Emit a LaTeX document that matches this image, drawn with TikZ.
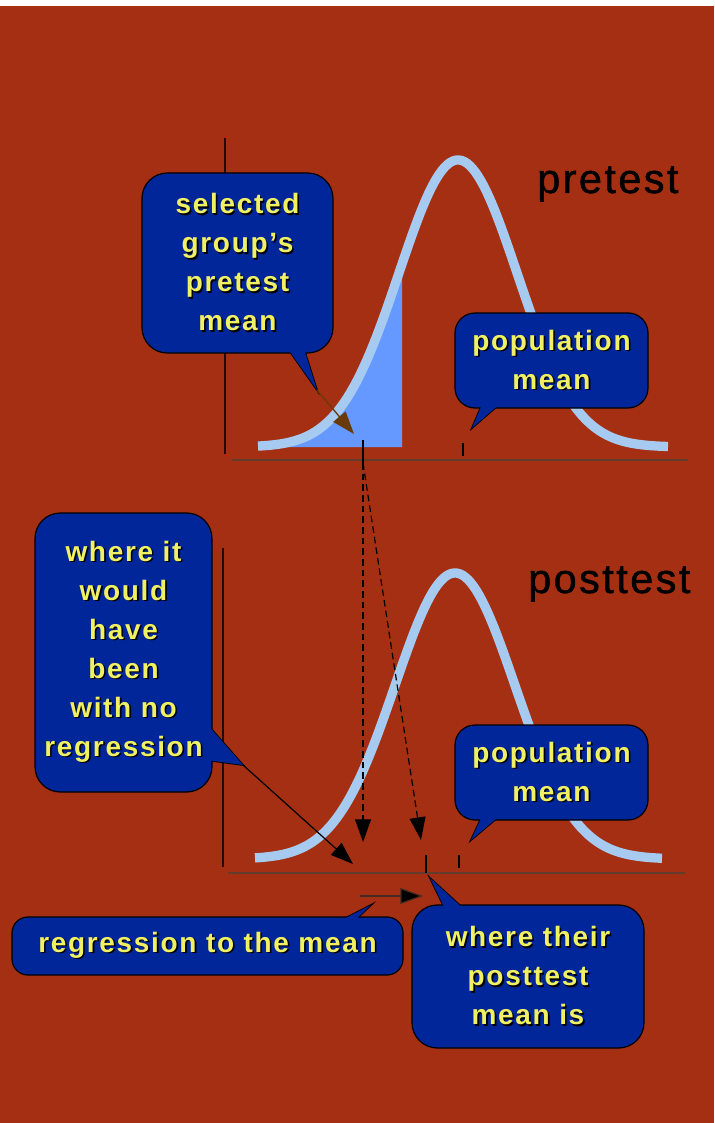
\documentclass[tikz,border=0pt]{standalone}
\usepackage{fontspec}
\setmainfont{Liberation Sans}
\newfontfamily\lab[LetterSpace=6]{Liberation Sans}
\newfontfamily\ttl[LetterSpace=6,FakeBold=1.2]{Liberation Sans}
\usetikzlibrary{arrows.meta}
\definecolor{bg}{RGB}{165,47,18}
\definecolor{curvecol}{RGB}{166,202,240}
\definecolor{shadecol}{RGB}{102,153,255}
\definecolor{boxblue}{RGB}{0,38,153}
\definecolor{ylw}{RGB}{240,240,100}
\definecolor{axiscol}{RGB}{100,60,45}
\definecolor{brownarr}{RGB}{107,58,10}
\newcommand\sh[1]{\makebox[0pt][l]{\hspace{1.2pt}\raisebox{-1.2pt}{\color{black}#1}}{\color{ylw}#1}}
\begin{document}
\begin{tikzpicture}[x=0.75pt,y=-0.75pt,
  box/.style={draw=black, line width=0.9pt, fill=boxblue, inner sep=0pt,
    font=\lab\bfseries\fontsize{21}{29.25}\selectfont, align=center},
  tail/.style={fill=boxblue, draw=black, line width=1.3pt, line join=miter},
  tailfill/.style={fill=boxblue},
  curve/.style={draw=curvecol, line width=7pt, line join=round},
  axis/.style={draw=axiscol, line width=1.4pt},
  vaxis/.style={draw=black!80!bg, line width=0.9pt},
  tick/.style={draw=black, line width=0.9pt},
  title/.style={font=\ttl\fontsize{31}{36}\selectfont, text=black, anchor=base west, inner sep=0pt},
  arr/.style={draw=black, line width=0.9pt, -{Triangle[length=17pt,width=12pt,fill=black]}},
  dasharr/.style={arr, dash pattern=on 5pt off 3pt},
  brownarr/.style={draw=brownarr, line width=1pt, -{Triangle[length=17pt,width=12pt]}},
]
\useasboundingbox (0,0) rectangle (714,1123);
\fill[white] (0,0) rectangle (714,1123);
\fill[bg] (0,6) rectangle (714,1123);

% ---------- pretest ----------
\draw[vaxis] (225,138) -- (225,454);
\fill[shadecol] (258,447) -- plot[domain=258:402,samples=60] (\x,{447-287*exp(-0.5*((\x-458)/59)^2)}) -- (402,447) -- cycle;
\draw[curve] plot[domain=258:668,samples=150] (\x,{447-287*exp(-0.5*((\x-458)/59)^2)});
\draw[axis] (232,460) -- (688,460);
\draw[tick] (363,440) -- (363,470);
\draw[tick] (463,443) -- (463,456);
\node[title] (pre) at (537,193) {pretest};

% ---------- posttest ----------
\draw[vaxis] (223,548) -- (223,867);
\draw[curve] plot[domain=255:662,samples=150] (\x,{859-286*exp(-0.5*((\x-455)/60)^2)});
\draw[axis] (228,873) -- (685,873);
\draw[tick] (426,855) -- (426,873);
\draw[tick] (459,855) -- (459,868);
\node[title] (post) at (528,593) {posttest};

% ---------- callouts ----------
% selected group's pretest mean
\filldraw[tail] (286,346) -- (317,390) -- (303,346) -- cycle;
\node[box, rounded corners=19pt, minimum width=143.25pt, minimum height=135pt] (sel) at (237.5,263)
  {\sh{selected}\\\sh{group’s}\\\sh{pretest}\\\sh{mean}};
\fill[tailfill] (286,346) -- (317,390) -- (303,346) -- cycle;
\coordinate (selTip) at (317,390);

% population mean (pretest)
\filldraw[tail] (483,402) -- (472,428) -- (502,402) -- cycle;
\node[box, rounded corners=15pt, minimum width=144.75pt, minimum height=71.25pt] (popPre) at (551.5,360.5)
  {\sh{population}\\\sh{mean}};
\fill[tailfill] (483,402) -- (472,428) -- (502,402) -- cycle;

% where it would have been
\filldraw[tail] (206,723) -- (243,765) -- (206,760) -- cycle;
\node[box, rounded corners=19pt, minimum width=132.75pt, minimum height=209.25pt] (noreg) at (123.5,652.5)
  {\sh{where it}\\\sh{would}\\\sh{have}\\\sh{been}\\\sh{with no}\\\sh{regression}};
\fill[tailfill] (206,723) -- (243,765) -- (206,760) -- cycle;
\coordinate (noregTip) at (243,765);

% population mean (posttest)
\filldraw[tail] (483,814) -- (471,840) -- (502,814) -- cycle;
\node[box, rounded corners=15pt, minimum width=144.75pt, minimum height=71.25pt] (popPost) at (551.5,772.5)
  {\sh{population}\\\sh{mean}};
\fill[tailfill] (483,814) -- (471,840) -- (502,814) -- cycle;

% regression to the mean
\filldraw[tail] (336,923) -- (371,905) -- (352,923) -- cycle;
\node[box, rounded corners=12pt, minimum width=293.25pt, minimum height=43.5pt] (regr) at (207.5,946)
  {\sh{regression to the mean}};
\fill[tailfill] (336,923) -- (371,905) -- (352,923) -- cycle;

% where their posttest mean is
\filldraw[tail] (446,911) -- (430,878) -- (466,911) -- cycle;
\node[box, rounded corners=19pt, minimum width=174pt, minimum height=107.25pt] (their) at (528,976.5)
  {\sh{where their}\\\sh{posttest}\\\sh{mean is}};
\fill[tailfill] (446,911) -- (430,878) -- (466,911) -- cycle;

% ---------- arrows ----------
\coordinate (selEnd) at (354,434);
\coordinate (preMean) at (363,463);
\coordinate (noRegPt) at (363,842);
\coordinate (postMeanPt) at (421,840);
\coordinate (noregEnd) at (353,864);
\coordinate (regStart) at (360,896);
\coordinate (regEnd) at (423,896);

\draw[brownarr] (selTip) -- (selEnd);
\draw[dasharr] (preMean) -- (noRegPt);
\draw[dasharr] (preMean) -- (postMeanPt);
\draw[arr] (noregTip) -- (noregEnd);
\draw[arr, draw=axiscol!70!black] (regStart) -- (regEnd);
\end{tikzpicture}
\end{document}
